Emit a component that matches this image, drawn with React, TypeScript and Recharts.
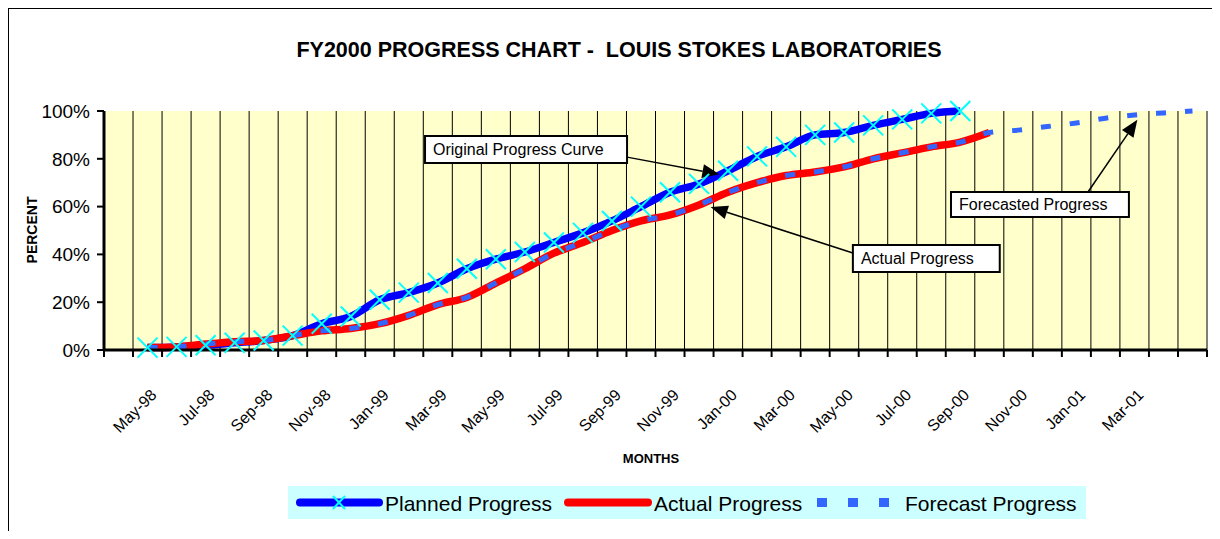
import React from 'react'
import {
  ComposedChart, Line, XAxis, YAxis, CartesianGrid, ReferenceArea, ReferenceLine,
} from 'recharts'

const FONT = 'Arial, "Liberation Sans", sans-serif'

const months = [
  'Apr-98', 'May-98', 'Jun-98', 'Jul-98', 'Aug-98', 'Sep-98', 'Oct-98', 'Nov-98', 'Dec-98',
  'Jan-99', 'Feb-99', 'Mar-99', 'Apr-99', 'May-99', 'Jun-99', 'Jul-99', 'Aug-99', 'Sep-99',
  'Oct-99', 'Nov-99', 'Dec-99', 'Jan-00', 'Feb-00', 'Mar-00', 'Apr-00', 'May-00', 'Jun-00',
  'Jul-00', 'Aug-00', 'Sep-00', 'Oct-00', 'Nov-00', 'Dec-00', 'Jan-01', 'Feb-01', 'Mar-01',
  'Apr-01', 'May-01',
]

// percent complete, one value per month (null = no point)
const planned = [
  null, 1, 1.3, 2, 3, 4, 6, 11, 14, 21, 24, 28, 34, 38, 41, 45, 49, 54, 60, 66,
  69.5, 75, 81, 85, 90, 91, 94, 96.5, 99, 100, null, null, null, null, null, null, null, null,
]
const actual = [
  null, 1, 1.3, 2.5, 3.5, 4, 6, 8, 9, 11, 14.5, 19, 22, 28, 34, 40.5, 45, 50, 54, 56.5,
  60.7, 66, 70, 73, 74.5, 76.6, 80, 82.5, 85, 87, 91, null, null, null, null, null, null, null,
]
// forecast after the last actual month (Nov-00 .. May-01)
const forecastTail = [92, 93.5, 95, 97, 98.3, 99.2, 100]
const yTicks = [0, 20, 40, 60, 80, 100]

const data = months.map((m, i) => ({
  x: i + 0.5,
  month: m,
  planned: planned[i],
  actual: actual[i],
  forecast: actual[i] ?? (i > 30 ? forecastTail[i - 31] : null),
}))

const boundaries = months.map((_, i) => i).concat(months.length)
// every second month is labelled, May-98 .. Mar-01
const labelTicks = months.map((_, i) => i + 0.5).filter((_, i) => i % 2 === 1 && i <= 35)

function CrossDot({ cx, cy }: any) {
  if (cx == null || cy == null || Number.isNaN(cy)) return <g />
  const r = 10
  return (
    <g>
      <line x1={cx - r} y1={cy - r} x2={cx + r} y2={cy + r} stroke="#00FFFF" strokeWidth={2} />
      <line x1={cx - r} y1={cy + r} x2={cx + r} y2={cy - r} stroke="#00FFFF" strokeWidth={2} />
    </g>
  )
}

function EmptyTick() {
  return <g />
}

function MonthTick({ x, y, payload }: any) {
  const label = months[Math.floor(payload.value)]
  const ax = x + 10
  const ay = y + 38
  return (
    <text
      x={ax} y={ay} textAnchor="end" fontSize={16} fontFamily={FONT} fill="#000"
      transform={`rotate(-45 ${ax} ${ay})`}
    >
      {label}
    </text>
  )
}

function ArrowShape({ x1, y1, x2, y2 }: any) {
  const dx = x2 - x1
  const dy = y2 - y1
  const len = Math.hypot(dx, dy) || 1
  const ux = dx / len
  const uy = dy / len
  const hl = 17
  const hw = 7
  const bx = x2 - ux * hl
  const by = y2 - uy * hl
  return (
    <g>
      <line x1={x1} y1={y1} x2={bx} y2={by} stroke="#000" strokeWidth={1.5} />
      <polygon
        points={`${x2},${y2} ${bx - uy * hw},${by + ux * hw} ${bx + uy * hw},${by - ux * hw}`}
        fill="#000"
      />
    </g>
  )
}

const boxLabel = (value: string) => ({
  value, position: 'insideLeft' as const, offset: 8, fontSize: 16, fill: '#000', fontFamily: FONT,
})

export default function App() {
  return (
    <div style={{ position: 'relative', width: 1212, height: 523, fontFamily: FONT }}>
      <ComposedChart
        width={1212}
        height={523}
        data={data}
        margin={{ top: 103, right: 13, left: 0, bottom: 113 }}
      >
        <CartesianGrid xAxisId="g" horizontal={false} stroke="#000" strokeWidth={1} fill="#FFFFCC" />
        <XAxis
          xAxisId="g" dataKey="x" type="number" domain={[0, 38]} ticks={boundaries} interval={0}
          allowDataOverflow tick={EmptyTick} tickSize={7} height={8}
          axisLine={{ stroke: '#000', strokeWidth: 3 }} tickLine={{ stroke: '#000', strokeWidth: 2 }}
        />
        <XAxis
          xAxisId="l" dataKey="x" type="number" domain={[0, 38]} ticks={labelTicks} interval={0}
          tick={MonthTick} tickLine={false} axisLine={false} tickSize={0} tickMargin={0} height={60}
        />
        <YAxis
          domain={[0, 100]} ticks={yTicks} interval={0} width={96} tickSize={7} tickMargin={7}
          tickFormatter={(v) => `${v}%`}
          tick={{ fontSize: 19, fill: '#000', fontFamily: FONT }}
          axisLine={{ stroke: '#000', strokeWidth: 3 }} tickLine={{ stroke: '#000', strokeWidth: 2 }}
        />
        <Line xAxisId="g" type="monotone" dataKey="planned" stroke="#0000FF" strokeWidth={7.5}
          dot={false} activeDot={false} isAnimationActive={false} />
        <Line xAxisId="g" type="monotone" dataKey="actual" stroke="#FF0000" strokeWidth={7.5}
          dot={false} activeDot={false} isAnimationActive={false} />
        <Line xAxisId="g" type="monotone" dataKey="forecast" stroke="#3366FF" strokeWidth={5}
          strokeDasharray="10 19" dot={false} activeDot={false} isAnimationActive={false} />
        <Line xAxisId="g" type="monotone" dataKey="planned" stroke="none"
          dot={CrossDot} activeDot={false} isAnimationActive={false} />

        <ReferenceArea xAxisId="g" x1={11.06} x2={18.02} y1={78.2} y2={89.5}
          fill="#fff" fillOpacity={1} stroke="#000" strokeWidth={2}
          label={boxLabel('Original Progress Curve')} />
        <ReferenceArea xAxisId="g" x1={25.8} x2={30.86} y1={32.6} y2={43.9}
          fill="#fff" fillOpacity={1} stroke="#000" strokeWidth={2}
          label={boxLabel('Actual Progress')} />
        <ReferenceArea xAxisId="g" x1={29.18} x2={35.31} y1={55.6} y2={66.1}
          fill="#fff" fillOpacity={1} stroke="#000" strokeWidth={2}
          label={boxLabel('Forecasted Progress')} />

        <ReferenceLine xAxisId="g" segment={[{ x: 18.02, y: 80.7 }, { x: 21.2, y: 73.5 }]} shape={ArrowShape} />
        <ReferenceLine xAxisId="g" segment={[{ x: 25.8, y: 40.6 }, { x: 20.9, y: 59.8 }]} shape={ArrowShape} />
        <ReferenceLine xAxisId="g" segment={[{ x: 33.9, y: 66.1 }, { x: 35.6, y: 96.3 }]} shape={ArrowShape} />
      </ComposedChart>

      <svg
        width={1213} height={524}
        style={{ position: 'absolute', left: -1, top: -1, pointerEvents: 'none' }}
      >
        {/* outer frame: top and left edges only */}
        <path d="M1,524 L1,1 L1213,1" fill="none" stroke="#000" strokeWidth={2} />
        <g transform="translate(1 1)">
          <text x={611} y={49} textAnchor="middle" fontSize={21.5} fontWeight="bold" fill="#000"
            style={{ whiteSpace: 'pre' }}>
            FY2000 PROGRESS CHART -  LOUIS STOKES LABORATORIES
          </text>
          <text x={24} y={222} textAnchor="middle" dominantBaseline="central" fontSize={14}
            fontWeight="bold" fill="#000" transform="rotate(-90 24 222)">
            PERCENT
          </text>
          <text x={643} y={450} textAnchor="middle" dominantBaseline="central" fontSize={13}
            fontWeight="bold" fill="#000">
            MONTHS
          </text>

          <rect x={280} y={478} width={798} height={33} fill="#CCFFFF" />
          <line x1={292} y1={494.5} x2={371} y2={494.5} stroke="#0000FF" strokeWidth={8} strokeLinecap="round" />
          <line x1={325} y1={488} x2={337} y2={501} stroke="#00FFFF" strokeWidth={2} />
          <line x1={325} y1={501} x2={337} y2={488} stroke="#00FFFF" strokeWidth={2} />
          <text x={377} y={495} dominantBaseline="central" fontSize={21} fill="#000">Planned Progress</text>
          <line x1={560} y1={494.5} x2={640} y2={494.5} stroke="#FF0000" strokeWidth={8} strokeLinecap="round" />
          <text x={646} y={495} dominantBaseline="central" fontSize={21} fill="#000">Actual Progress</text>
          <rect x={809} y={490} width={10} height={9} fill="#3366FF" />
          <rect x={840} y={490} width={10} height={9} fill="#3366FF" />
          <rect x={871} y={490} width={10} height={9} fill="#3366FF" />
          <text x={897} y={495} dominantBaseline="central" fontSize={21} fill="#000">Forecast Progress</text>
        </g>
      </svg>
    </div>
  )
}
